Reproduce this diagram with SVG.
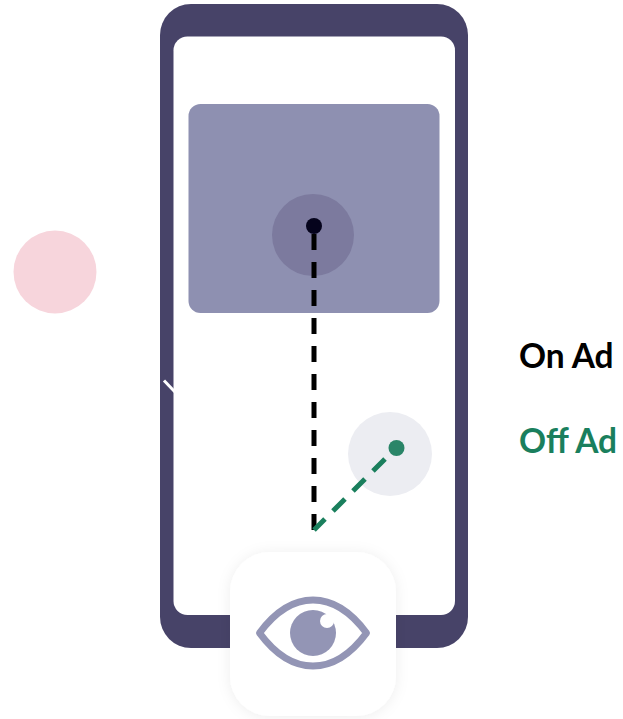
<svg xmlns="http://www.w3.org/2000/svg" width="623" height="719" viewBox="0 0 623 719">
<style>
.label{font-family:Lato,"Open Sans","Liberation Sans",sans-serif;font-weight:700;font-size:33.500px}
.black{fill:none;stroke:#000;stroke-width:5;stroke-dasharray:16 12}
.green{fill:none;stroke:#1a7f5d;stroke-width:5;stroke-dasharray:17 11.300}
</style>
<defs>
<filter id="sh" x="-20%" y="-20%" width="140%" height="140%"><feDropShadow dx="0" dy="1" stdDeviation="7" flood-color="#000" flood-opacity="0.07"/></filter>
</defs>
<rect width="623" height="719" fill="#fff"/>
<g id="pink-circle"><circle cx="55" cy="272" r="41.500" fill="#f7d5dc"/></g>
<g id="phone">
<rect x="160" y="4" width="308" height="644" rx="31" fill="#474368"/>
<rect x="173.500" y="36.500" width="281.500" height="578.500" rx="14" fill="#fff"/>
<path d="M164 380.500L175 392" stroke="#fff" stroke-width="3" fill="none"/>
</g>
<g id="ad">
<rect x="188.500" y="104" width="251" height="209" rx="12" fill="#8e90b1"/>
<circle cx="313" cy="235" r="41" fill="#7c7a9e"/>
</g>
<g id="off-target"><circle cx="390" cy="454" r="42" fill="#ecedf2"/></g>
<g id="connectors">
<path class="black" d="M314 234V530"/>
<path class="green" d="M385 459L314 530"/>
</g>
<g id="on-dot"><circle cx="314" cy="226" r="8" fill="#05031c"/></g>
<g id="off-dot"><circle cx="396.500" cy="448" r="8" fill="#2a8568"/></g>
<g id="eye-tile">
<rect x="230" y="552" width="166" height="164" rx="40" fill="#fff" filter="url(#sh)"/>
<path d="M259.500 633C275 612 293 600 313 600C333 600 351 612 366.500 633C351 654 333 666 313 666C293 666 275 654 259.500 633Z" fill="none" stroke="#9395b5" stroke-width="7" stroke-linejoin="round"/>
<circle cx="313" cy="633" r="23" fill="#9395b5"/>
<circle cx="327" cy="621" r="7" fill="#fff"/>
</g>
<g id="legend">
<text class="label" x="519" y="368" fill="#000">On Ad</text>
<text class="label" x="519" y="453" fill="#1a7f5d">Off Ad</text>
</g>
</svg>
